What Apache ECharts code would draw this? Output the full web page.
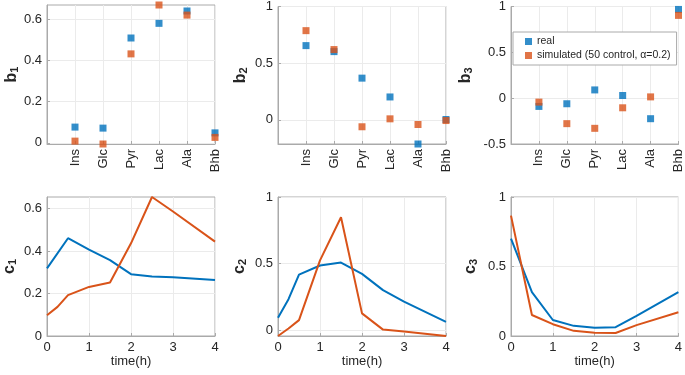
<!DOCTYPE html>
<html>
<head>
<meta charset="utf-8">
<script src="https://cdn.jsdelivr.net/npm/echarts@6/dist/echarts.min.js"></script>
<style>
  html, body { margin: 0; padding: 0; background: #fff; }
  #chart { width: 685px; height: 375px; }
</style>
</head>
<body>
<div id="chart"></div>
<script>
// metabolites on the top row
const cats = ['Ins', 'Glc', 'Pyr', 'Lac', 'Ala', 'Bhb'];
const b1Real = [0.076, 0.071, 0.508, 0.579, 0.639, 0.048];
const b1Sim = [0.008, -0.006, 0.431, 0.668, 0.619, 0.026];
const b2Real = [0.655, 0.602, 0.368, 0.202, -0.213, 0.003];
const b2Sim = [0.787, 0.62, -0.061, 0.009, -0.041, -0.006];
const b3Real = [-0.09, -0.061, 0.09, 0.029, -0.224, 0.968];
const b3Sim = [-0.043, -0.278, -0.329, -0.105, 0.014, 0.903];

// time courses on the bottom row
const time = [0, 0.25, 0.5, 1, 1.5, 2, 2.5, 3, 4];
const c1Real = [0.318, null, 0.46, 0.406, 0.357, 0.291, 0.28, 0.276, 0.263];
const c1Sim = [0.098, 0.137, 0.192, 0.231, 0.252, 0.436, 0.654, 0.586, 0.444];
const c2Real = [0.094, 0.233, 0.418, 0.486, 0.508, 0.423, 0.301, 0.215, 0.063];
const c2Sim = [-0.043, 0.013, 0.076, 0.524, 0.848, 0.127, 0.005, -0.01, -0.043];
const c3Real = [0.70, null, 0.315, 0.115, 0.073, 0.059, 0.063, 0.144, 0.315];
const c3Sim = [0.866, null, 0.151, 0.085, 0.037, 0.024, 0.022, 0.078, 0.171];

const timeTicks = [0, 1, 2, 3, 4];
const catTicks = [1, 2, 3, 4, 5, 6];

const panels = [
  { name: 'b', sub: '1', real: b1Real, sim: b1Sim, min: -0.006, max: 0.668, ticks: [0, 0.2, 0.4, 0.6], gap: 27 },
  { name: 'b', sub: '2', real: b2Real, sim: b2Sim, min: -0.213, max: 1, ticks: [0, 0.5, 1], gap: 29 },
  { name: 'b', sub: '3', real: b3Real, sim: b3Sim, min: -0.5, max: 1, ticks: [-0.5, 0, 0.5, 1], gap: 37 },
  { name: 'c', sub: '1', real: c1Real, sim: c1Sim, min: 0, max: 0.654, ticks: [0, 0.2, 0.4, 0.6], gap: 29 },
  { name: 'c', sub: '2', real: c2Real, sim: c2Sim, min: -0.043, max: 1, ticks: [0, 0.5, 1], gap: 30 },
  { name: 'c', sub: '3', real: c3Real, sim: c3Sim, min: 0, max: 1, ticks: [0, 0.5, 1], gap: 32 }
];

const blue = '#0072BD';
const orange = '#D95319';
const boxColor = '#aaaaaa';
const textColor = '#262626';
const simName = 'simulated (50 control, \u03b1=0.2)';

const lefts = [47, 278, 511];
const tops = [5, 197];

const myChart = echarts.init(document.getElementById('chart'));

let grid = [], xAxis = [], yAxis = [], series = [];
panels.forEach((p, i) => {
  const top = i < 3;
  grid.push({
    left: lefts[i % 3], top: tops[top ? 0 : 1], width: 168, height: 139,
    show: true, borderColor: boxColor, borderWidth: 1, backgroundColor: '#fff'
  });
  xAxis.push({
    gridIndex: i, type: 'value',
    min: 0, max: top ? 6 : 4,
    name: top ? '' : 'time(h)',
    nameLocation: 'middle', nameGap: 17,
    nameTextStyle: { color: textColor, fontSize: 13, fontFamily: 'Liberation Sans' },
    axisLine: { show: true, onZero: false, lineStyle: { color: boxColor } },
    axisTick: { show: true, inside: true, length: 3, lineStyle: { color: boxColor }, customValues: top ? catTicks : timeTicks },
    axisLabel: {
      color: textColor, fontSize: 13, fontFamily: 'Liberation Sans',
      customValues: top ? catTicks : timeTicks,
      rotate: top ? 90 : 0, margin: top ? 5 : 5,
      formatter: top ? (v => cats[Math.round(v) - 1]) : (v => String(v))
    },
    splitLine: { show: true, lineStyle: { color: '#ebebeb', width: 1 } }
  });
  yAxis.push({
    gridIndex: i, type: 'value', min: p.min, max: p.max,
    name: '{n|' + p.name + '}{s|' + p.sub + '}',
    nameLocation: 'middle', nameRotate: 90, nameGap: p.gap,
    nameTextStyle: {
      rich: {
        n: { fontSize: 16, fontWeight: 'bold', color: textColor, fontFamily: 'Liberation Sans', verticalAlign: 'bottom', lineHeight: 18 },
        s: { fontSize: 11, fontWeight: 'bold', color: textColor, fontFamily: 'Liberation Sans', verticalAlign: 'bottom', lineHeight: 12 }
      }
    },
    axisLine: { show: true, onZero: false, lineStyle: { color: boxColor } },
    axisTick: { show: true, inside: true, length: 3, lineStyle: { color: boxColor }, customValues: p.ticks },
    axisLabel: { color: textColor, fontSize: 13, fontFamily: 'Liberation Sans', margin: 5, customValues: p.ticks },
    splitLine: { show: true, lineStyle: { color: '#ebebeb', width: 1 } }
  });
  if (top) {
    series.push({
      name: 'real', type: 'scatter', xAxisIndex: i, yAxisIndex: i, clip: false,
      symbol: 'rect', symbolSize: 7, itemStyle: { color: blue },
      data: p.real.map((v, k) => [k + 1, v])
    });
    series.push({
      name: simName, type: 'scatter', xAxisIndex: i, yAxisIndex: i, clip: false,
      symbol: 'rect', symbolSize: 7, itemStyle: { color: orange },
      data: p.sim.map((v, k) => [k + 1, v])
    });
  } else {
    series.push({
      name: 'real', type: 'line', xAxisIndex: i, yAxisIndex: i,
      showSymbol: false, connectNulls: true, lineStyle: { color: blue, width: 2 }, itemStyle: { color: blue },
      data: p.real.map((v, k) => [time[k], v])
    });
    series.push({
      name: simName, type: 'line', xAxisIndex: i, yAxisIndex: i,
      showSymbol: false, connectNulls: true, lineStyle: { color: orange, width: 2 }, itemStyle: { color: orange },
      data: p.sim.map((v, k) => [time[k], v])
    });
  }
});

const option = {
  animation: false,
  grid: grid,
  xAxis: xAxis,
  yAxis: yAxis,
  legend: {
    orient: 'vertical', left: 513, top: 32,
    data: [{ name: 'real', icon: 'rect' }, { name: simName, icon: 'rect' }],
    itemWidth: 7, itemHeight: 7, itemGap: 3,
    padding: [4, 6, 4, 12],
    backgroundColor: '#fff', borderColor: boxColor, borderWidth: 1,
    textStyle: { fontSize: 10.5, color: textColor, fontFamily: 'Liberation Sans' },
    selectedMode: false
  },
  series: series
};
myChart.setOption(option);
</script>
</body>
</html>
